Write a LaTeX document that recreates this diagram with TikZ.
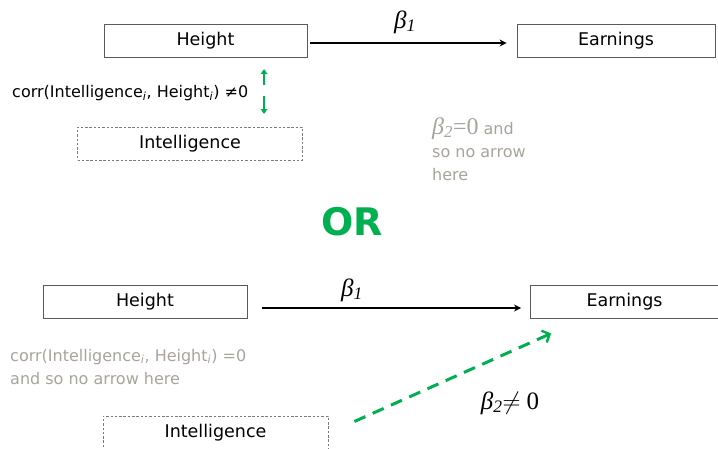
\documentclass[tikz,border=0pt]{standalone}
\usepackage{fontspec}
\setmainfont{DejaVu Sans}
\newfontfamily\timesfont{Liberation Serif}
\usepackage{xcolor}
\usetikzlibrary{
    arrows.meta,
    positioning,
    calc
}
\definecolor{boxgray}{RGB}{90,90,90}
\definecolor{notegray}{RGB}{168,163,155}
\definecolor{orgreen}{RGB}{0,176,80}

\begin{document}
\begin{tikzpicture}[
        x=1pt, y=-1pt,
        box/.style={
            rectangle,
            draw=boxgray,
            line width=0.9pt,
            align=center,
            minimum width=203pt,
            minimum height=33pt,
            inner sep=0pt,
            font=\fontsize{17.5}{20}\selectfont
        },
        hidden/.style={
            box,
            draw=boxgray!80,
            dash pattern=on 2.5pt off 1.8pt,
            minimum width=225pt
        },
        line/.style={
            -{Stealth[length=7pt,width=7pt]},
            line width=1.2pt
        },
        corrarrow/.style={
            -{Triangle[length=5pt,width=6.5pt]},
            orgreen,
            line width=2.4pt
        },
        effect/.style={
            -{Straight Barb[length=6pt,width=13pt,line width=2.4pt]},
            orgreen,
            line width=3pt,
            dash pattern=on 12pt off 8pt
        },
        coef/.style={
            inner sep=0pt,
            font=\timesfont\fontsize{25}{26}\selectfont
        },
        note/.style={
            inner sep=0pt,
            align=left,
            font=\fontsize{16}{23}\selectfont
        }
    ]
    \useasboundingbox (0,0) rectangle (718,448);

    % top: Intelligence unrelated to Earnings
    \node[box] (height1) at (205.5,41) {Height};
    \node[box, minimum width=198pt] (earn1) at (616,40.5) {Earnings};
    \draw[line] ([xshift=3pt,yshift=-2pt]height1.east)
        -- ([xshift=-10pt,yshift=-2.5pt]earn1.west);
    \node[coef] (b1top) at (405,22) {\itshape β\textsubscript{1}};

    \node[hidden] (intel1) at (190,143.5) {Intelligence};
    \node[note, anchor=west] (corr1) at (12,93)
        {corr(Intelligence\textsubscript{\itshape i}, Height\textsubscript{\itshape i}) ≠0};
    \coordinate (up1) at (264,85);
    \coordinate (up2) at (264,69);
    \coordinate (dn1) at (264,96);
    \coordinate (dn2) at (264,114);
    \draw[corrarrow] (up1) -- (up2);
    \draw[corrarrow] (dn1) -- (dn2);

    \node[note, text=notegray, anchor=north west] (nob2) at (432,117)
        {{\timesfont\fontsize{24}{23}\selectfont\itshape β\textsubscript{2}\upshape=0} and\\
         so no arrow\\here};

    \node[font=\bfseries\fontsize{38}{40}\selectfont, text=orgreen] (or) at (352,222) {OR};

    % bottom: Intelligence affects Earnings
    \node[box, minimum width=204pt] (height2) at (145,301.5) {Height};
    \node[box, minimum width=188pt] (earn2) at (624.5,301.5) {Earnings};
    \draw[line] ([xshift=15pt,yshift=-6.5pt]height2.east)
        -- ([xshift=-9pt,yshift=-6.5pt]earn2.west);
    \node[coef] (b1bot) at (352,290) {\itshape β\textsubscript{1}};

    \node[note, text=notegray, anchor=north west] (corr2) at (10,349)
        {corr(Intelligence\textsubscript{\itshape i}, Height\textsubscript{\itshape i}) =0\\
         and so no arrow here};

    \node[hidden] (intel2) at (215.5,432.5) {Intelligence};
    \draw[effect] ([xshift=26pt,yshift=11pt]intel2.east)
        -- ([xshift=21pt,yshift=-15pt]earn2.south west);
    \node[coef] (b2bot) at (510,403) {\itshape β\textsubscript{2}\upshape$\neq$ 0};
\end{tikzpicture}
\end{document}
